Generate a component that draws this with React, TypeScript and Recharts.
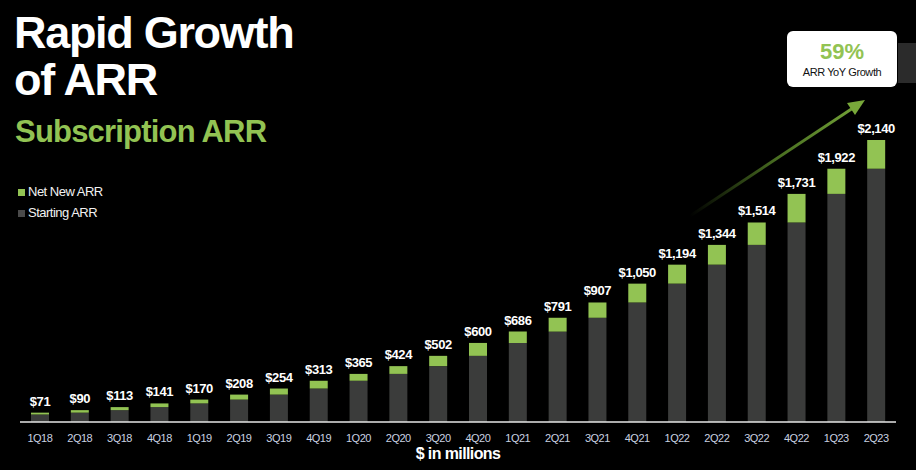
import { BarChart, Bar, XAxis, YAxis, LabelList } from 'recharts'

const quarters = ['1Q18', '2Q18', '3Q18', '4Q18', '1Q19', '2Q19', '3Q19', '4Q19', '1Q20', '2Q20', '3Q20', '4Q20',
  '1Q21', '2Q21', '3Q21', '4Q21', '1Q22', '2Q22', '3Q22', '4Q22', '1Q23', '2Q23']
const startingArr = [57, 71, 90, 113, 141, 170, 208, 254, 313, 365, 424, 502, 600, 686, 791, 907, 1050, 1194, 1344, 1514, 1731, 1922]
const netNewArr = [14, 19, 23, 28, 29, 38, 46, 59, 52, 59, 78, 98, 86, 105, 116, 143, 144, 150, 170, 217, 191, 218]
const totalArr = [71, 90, 113, 141, 170, 208, 254, 313, 365, 424, 502, 600, 686, 791, 907, 1050, 1194, 1344, 1514, 1731, 1922, 2140]

const GREEN = '#92c353'
const DARK = '#3b3c3b'
const FONT = '"Liberation Sans", Arial, sans-serif'

const data = quarters.map((q, i) => ({
  q,
  starting: startingArr[i],
  netNew: netNewArr[i],
  total: totalArr[i],
}))

const fmt = (v: unknown) => '$' + Number(v).toLocaleString('en-US')

export default function App() {
  return (
    <div style={{ position: 'fixed', left: 0, top: 0, width: 916, height: 470, background: '#000', fontFamily: FONT, overflow: 'hidden' }}>
      <div style={{ position: 'absolute', left: 0, top: 0 }}>
        <BarChart width={916} height={470} data={data} margin={{ top: 140, right: 20, bottom: 18, left: 20 }} barSize={18}>
          <XAxis
            dataKey="q"
            height={30}
            axisLine={{ stroke: '#e6e6e6', strokeWidth: 1.5 }}
            tickLine={false}
            tick={{ fill: '#c9d1e0', fontSize: 11, fontFamily: FONT, letterSpacing: -0.5 }}
            interval={0}
            tickMargin={6}
          />
          <YAxis hide domain={[0, 2140]} />
          <Bar dataKey="starting" stackId="a" fill={DARK} isAnimationActive={false} />
          <Bar dataKey="netNew" stackId="a" fill={GREEN} isAnimationActive={false}>
            <LabelList
              dataKey="total"
              position="top"
              offset={7}
              formatter={fmt}
              style={{ fill: '#fff', fontSize: 13, fontWeight: 700, fontFamily: FONT, letterSpacing: -0.4 }}
            />
          </Bar>
        </BarChart>
      </div>

      <div style={{ position: 'absolute', left: 14, top: 9, color: '#fff', fontWeight: 700, fontSize: 45, lineHeight: '47px', letterSpacing: -1.3 }}>
        Rapid Growth<br />of ARR
      </div>
      <div style={{ position: 'absolute', left: 15, top: 114, color: GREEN, fontWeight: 700, fontSize: 31, letterSpacing: -0.8 }}>
        Subscription ARR
      </div>

      <div style={{ position: 'absolute', left: 18, top: 181, color: '#f2f2f2', fontSize: 13, letterSpacing: -0.5, lineHeight: '21px' }}>
        <div><span style={{ display: 'inline-block', width: 7, height: 7, background: GREEN, marginRight: 3 }} />Net New ARR</div>
        <div><span style={{ display: 'inline-block', width: 7, height: 7, background: '#4a4a4a', marginRight: 3 }} />Starting ARR</div>
      </div>

      <div style={{ position: 'absolute', left: 898, top: 43, width: 20, height: 40, background: '#2b2b2b' }} />

      <div style={{ position: 'absolute', left: 787, top: 31, width: 110, height: 56, background: '#fff', borderRadius: 6, textAlign: 'center' }}>
        <div style={{ color: GREEN, fontWeight: 700, fontSize: 22, marginTop: 8, lineHeight: '25px' }}>59%</div>
        <div style={{ color: '#111', fontSize: 11, letterSpacing: -0.4, marginTop: 2 }}>ARR YoY Growth</div>
      </div>

      <svg width={916} height={470} style={{ position: 'absolute', left: 0, top: 0 }}>
        <defs>
          <linearGradient id="arrowGrad" x1="690" y1="216" x2="865" y2="100" gradientUnits="userSpaceOnUse">
            <stop offset="0" stopColor="#5c8a2a" stopOpacity={0} />
            <stop offset="0.5" stopColor="#5c8a2a" stopOpacity={0.8} />
            <stop offset="1" stopColor="#78a83a" stopOpacity={1} />
          </linearGradient>
        </defs>
        <line x1={690} y1={216} x2={856} y2={106} stroke="url(#arrowGrad)" strokeWidth={3} />
        <polygon points="865,100 847,103 855,115" fill="#78a83a" />
      </svg>

      <div style={{ position: 'absolute', left: 0, width: 916, top: 445, textAlign: 'center', color: '#fff', fontWeight: 700, fontSize: 16, letterSpacing: -0.6 }}>
        $ in millions
      </div>
    </div>
  )
}
